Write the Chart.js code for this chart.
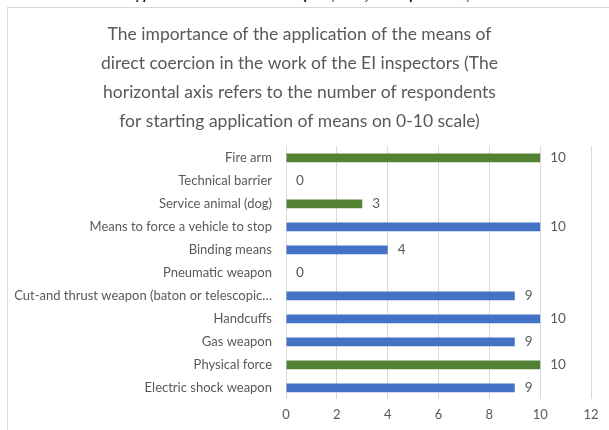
<!DOCTYPE html>
<html>
<head>
<meta charset="utf-8">
<script src="https://cdn.jsdelivr.net/npm/chart.js@4"></script>
<style>
    html, body { margin: 0; padding: 0; overflow: hidden; background: #fff; }
    #docLine {
        position: absolute; left: 0; top: -18px; width: 640px; white-space: nowrap;
        font-family: "Liberation Serif", serif; font-size: 20px; color: #000;
        height: 20px; line-height: 20px; overflow: hidden;
    }
    #frame {
        position: absolute; left: 7px; top: 7px; width: 620px; height: 440px;
        border: 1px solid #d9d9d9; background: #fff;
    }
    #wrap { position: absolute; left: 0; top: 0; width: 602px; height: 423px; }
</style>
</head>
<body>
<div id="docLine">carried out among EI officials and employees, compiled by the author</div>
<div id="frame">
    <div id="wrap"><canvas id="coercionChart"></canvas></div>
</div>
<script>
const titleLines = [
    'The importance of the application of the means of',
    'direct coercion in the work of the EI inspectors (The',
    'horizontal axis refers to the number of respondents',
    'for starting application of means on 0-10 scale)'
];
const categories = [
    'Fire arm',
    'Technical barrier',
    'Service animal (dog)',
    'Means to force a vehicle to stop',
    'Binding means',
    'Pneumatic weapon',
    'Cut-and thrust weapon (baton or telescopic\u2026',
    'Handcuffs',
    'Gas weapon',
    'Physical force',
    'Electric shock weapon'
];
const respondents = [10, 0, 3, 10, 4, 0, 9, 10, 9, 10, 9];
const greenBars = [true, false, true, false, false, false, false, false, false, true, false];
const xTicks = [0, 2, 4, 6, 8, 10, 12];

const BLUE = '#4472c4';
const GREEN = '#548235';
const GREY = '#595959';
const FONT = 'Lato, "Open Sans", sans-serif';

// draws the value next to each bar, like Excel data labels
const valueLabels = {
    id: 'valueLabels',
    afterDatasetsDraw(chart) {
        const ctx = chart.ctx;
        const meta = chart.getDatasetMeta(0);
        ctx.save();
        ctx.font = '13.5px ' + FONT;
        ctx.fillStyle = GREY;
        ctx.textAlign = 'left';
        ctx.textBaseline = 'middle';
        meta.data.forEach((bar, i) => {
            ctx.fillText(String(respondents[i]), bar.x + 10, bar.y);
        });
        ctx.restore();
    }
};

new Chart(document.getElementById('coercionChart').getContext('2d'), {
    type: 'bar',
    data: {
        labels: categories,
        datasets: [{
            data: respondents,
            backgroundColor: greenBars.map(g => g ? GREEN : BLUE),
            borderWidth: 0,
            barPercentage: 0.38,
            categoryPercentage: 1.0
        }]
    },
    options: {
        indexAxis: 'y',
        responsive: true,
        maintainAspectRatio: false,
        animation: false,
        layout: { padding: { top: 0, right: 19, bottom: 0, left: 0 } },
        scales: {
            x: {
                min: 0,
                max: 12,
                afterBuildTicks: axis => { axis.ticks = xTicks.map(v => ({ value: v })); },
                grid: { color: '#d9d9d9', drawTicks: false },
                border: { display: false },
                ticks: { color: GREY, padding: 8, font: { family: FONT, size: 13 } }
            },
            y: {
                afterFit: axis => { axis.width = 278; },
                grid: { display: false, drawTicks: false },
                border: { display: false },
                ticks: { color: GREY, padding: 14, autoSkip: false, font: { family: FONT, size: 13 } }
            }
        },
        plugins: {
            legend: { display: false },
            tooltip: { enabled: false },
            title: {
                display: true,
                text: titleLines,
                color: GREY,
                font: { family: FONT, size: 17.5, weight: 'normal', lineHeight: 1.657 },
                padding: { top: 12, bottom: 10.5 }
            }
        }
    },
    plugins: [valueLabels]
});
</script>
</body>
</html>
